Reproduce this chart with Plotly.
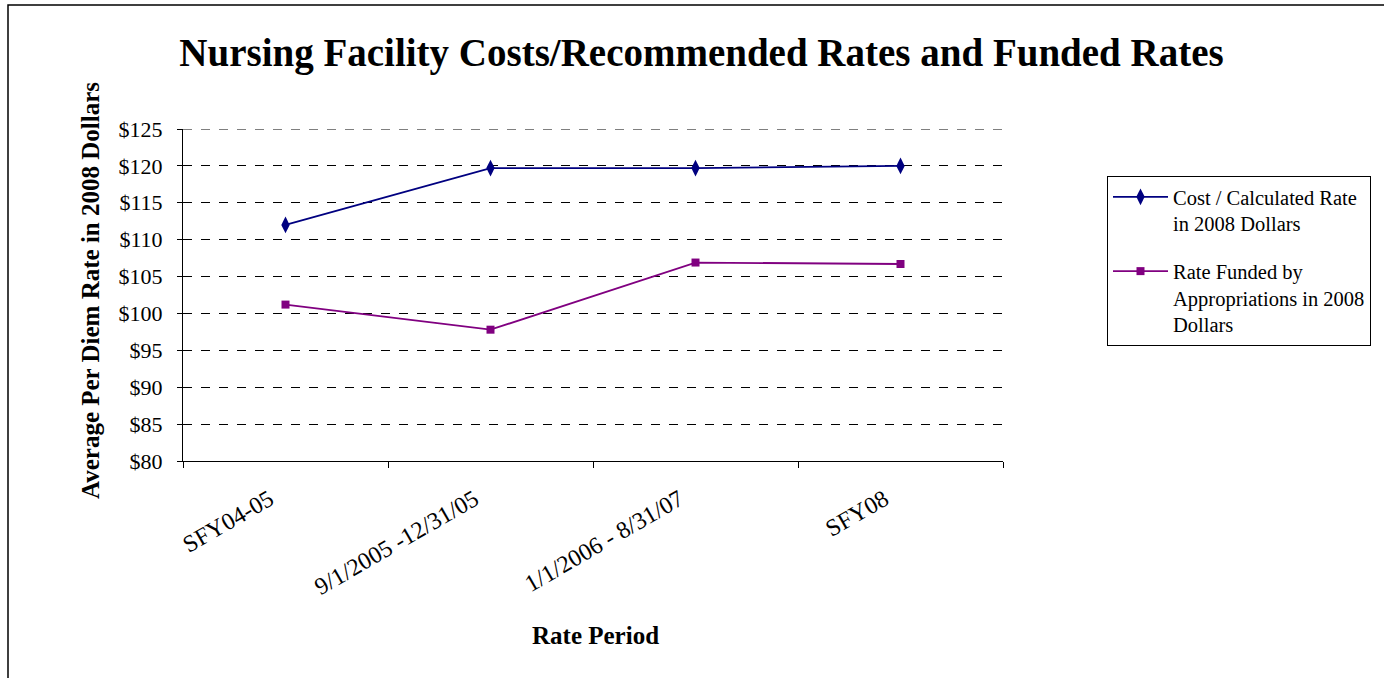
import plotly.graph_objects as go

categories = ["SFY04-05", "9/1/2005 -12/31/05", "1/1/2006 - 8/31/07", "SFY08"]
cost_rate = [112.0, 119.7, 119.7, 120.0]
funded_rate = [101.2, 97.8, 106.9, 106.7]
y_ticks = [80, 85, 90, 95, 100, 105, 110, 115, 120, 125]
y_tick_labels = ["$" + str(v) for v in y_ticks]

W, H = 1384, 678
L, R, T, B = 183, 1003, 129, 461
pw, ph = R - L, B - T

def px_x(x):
    return (x - L) / pw

def px_y(y):
    return (B - y) / ph

font_family = "Liberation Serif, Times New Roman, serif"

fig = go.Figure()
fig.add_trace(go.Scatter(
    x=categories, y=cost_rate, mode="lines+markers",
    name="Cost / Calculated Rate<br>in 2008 Dollars",
    line=dict(color="#000080", width=1.8),
    marker=dict(symbol="diamond-tall", size=12, color="#000080"),
    legendgroup="a",
))
fig.add_trace(go.Scatter(
    x=categories, y=funded_rate, mode="lines+markers",
    name="Rate Funded by<br>Appropriations in 2008<br>Dollars",
    line=dict(color="#800080", width=1.8),
    marker=dict(symbol="square", size=8, color="#800080"),
    legendgroup="b",
))

fig.update_layout(
    width=W, height=H,
    margin=dict(l=L, r=W - R, t=T, b=H - B, autoexpand=False),
    paper_bgcolor="white", plot_bgcolor="white",
    font=dict(family=font_family, color="black", size=22),
    title=dict(
        text="<b>Nursing Facility Costs/Recommended Rates and Funded Rates</b>",
        font=dict(size=39, family=font_family, color="black"),
        x=(178 + 1225) / 2 / W, xanchor="center",
        y=1 - 52 / H, yanchor="middle",
    ),
    xaxis=dict(
        type="category", range=[-0.5, 3.5],
        showline=True, linecolor="black", linewidth=1,
        ticks="outside", tickson="boundaries", ticklen=6, tickcolor="black",
        tickangle=-30, tickfont=dict(size=24),
        ticklabelshift=-16, ticklabelstandoff=14,
        showgrid=False,
    ),
    yaxis=dict(
        range=[80, 125], tickvals=y_ticks, ticktext=y_tick_labels,
        showline=True, linecolor="black", linewidth=1,
        ticks="outside", ticklen=5, tickcolor="black",
        tickfont=dict(size=22), ticklabelstandoff=10,
        showgrid=True, gridcolor="black", griddash="dash", gridwidth=1,
        zeroline=False,
    ),
    legend=dict(
        x=px_x(1107), y=px_y(176), xanchor="left", yanchor="top",
        bordercolor="black", borderwidth=1, bgcolor="white",
        font=dict(size=20.5, family=font_family),
        traceorder="grouped", tracegroupgap=18, valign="top",
        itemwidth=55,
    ),
    annotations=[
        dict(text="<b>Rate Period</b>", xref="paper", yref="paper",
             x=px_x(595), y=px_y(635), xanchor="center", yanchor="middle",
             showarrow=False, font=dict(size=25, family=font_family)),
        dict(text="<b>Average Per Diem Rate in 2008 Dollars</b>", xref="paper", yref="paper",
             x=px_x(90), y=px_y(291), xanchor="center", yanchor="middle", textangle=-90,
             showarrow=False, font=dict(size=25, family=font_family)),
    ],
    shapes=[
        dict(type="rect", xref="paper", yref="paper",
             x0=px_x(8), x1=px_x(1392), y0=px_y(690), y1=px_y(5),
             line=dict(color="black", width=1.5), fillcolor="rgba(0,0,0,0)",
             layer="below"),
        dict(type="line", xref="paper", yref="y",
             x0=0, x1=1, y0=y_ticks[-1], y1=y_ticks[-1],
             line=dict(color="black", width=1, dash="dash"), layer="below"),
    ],
)

fig.write_html("out.html", config={"displayModeBar": False},
               post_script="document.body.style.margin='0px';")
